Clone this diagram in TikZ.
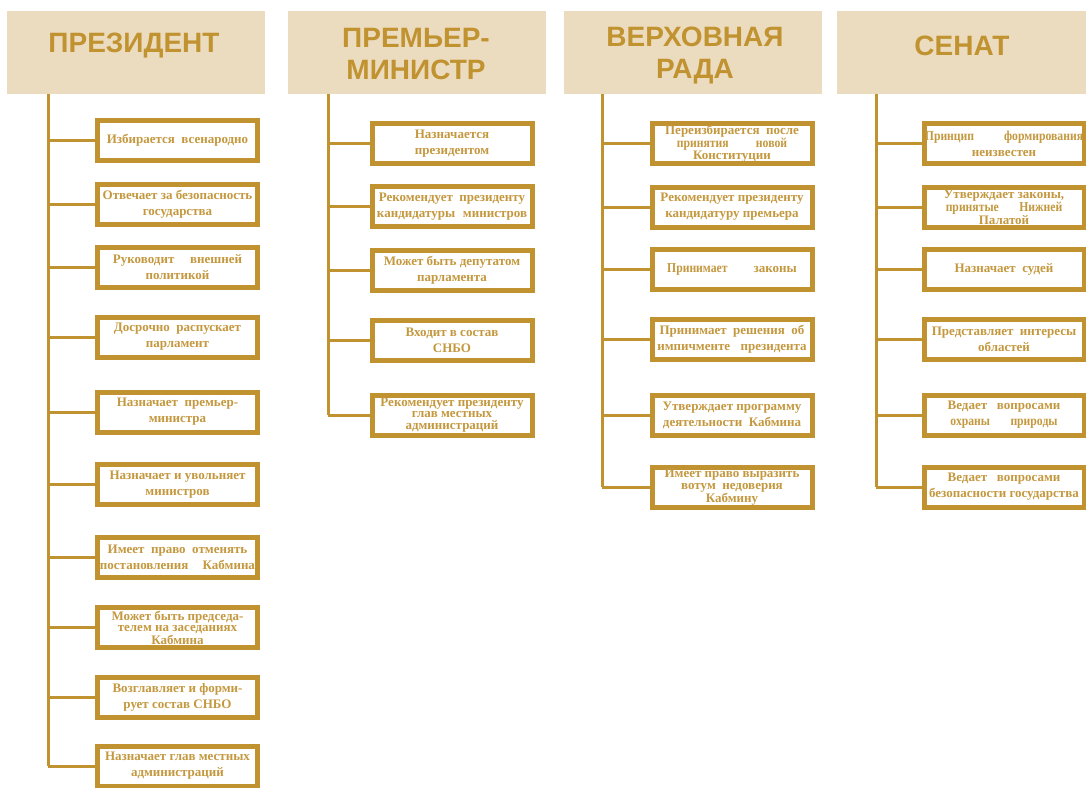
\documentclass[tikz,border=0pt]{standalone}
\usepackage{fontspec}
\setmainfont{Liberation Serif}
\newfontfamily\hdrfont{Liberation Sans}
\newfontfamily\condfont[FakeStretch=0.86]{Liberation Serif}
\definecolor{gold}{RGB}{193,146,48}
\definecolor{goldtext}{RGB}{196,152,62}
\definecolor{beige}{RGB}{236,220,191}
\tikzset{
  hdr/.style={fill=beige, draw=none, minimum width=258pt, minimum height=83pt, inner sep=0pt},
  hdrtext/.style={text=gold, font=\hdrfont\bfseries\fontsize{28}{32}\selectfont, align=center, inner sep=0pt},
  infobox/.style={draw=gold, line width=5pt, fill=white, minimum width=160pt, minimum height=40pt,
    inner sep=0pt, text=goldtext, align=center, font=\bfseries\fontsize{13}{16}\selectfont},
  tight/.style={font=\bfseries\fontsize{13}{11.5}\selectfont},
  trunk/.style={draw=gold, line width=3pt},
}
\newcommand{\cnd}[1]{{\condfont\bfseries\fontsize{13.6}{11.5}\selectfont #1}}
\begin{document}
\begin{tikzpicture}[x=1pt,y=-1pt]
\useasboundingbox (0,0) rectangle (1086,787);
% headers
\node[hdr] (h1) at (136,52.5) {};
\node[hdr] (h2) at (417,52.5) {};
\node[hdr] (h3) at (693,52.5) {};
\node[hdr, minimum width=249pt] (h4) at (961.5,52) {};
\node[hdrtext] (t1) at (134,46) {ПРЕЗИДЕНТ};
\node[hdrtext] (t2) at (416,54.5) {ПРЕМЬЕР-\\МИНИСТР};
\node[hdrtext] (t3) at (695,55.5) {ВЕРХОВНАЯ\\РАДА};
\node[hdrtext] (t4) at (962,46) {СЕНАТ};
% trunk coordinates
\coordinate (c1) at (48,94);
\coordinate (c2) at (328,94);
\coordinate (c3) at (602,94);
\coordinate (c4) at (876,94);
% President boxes
\node[infobox] (p1) at (177.5,140.5) {Избирается\ \ всенародно};
\node[infobox] (p2) at (177.5,204.5) {Отвечает за безопасность\\государства};
\node[infobox] (p3) at (177.5,267.5) {Руководит\hspace{1.2em}внешней\\политикой};
\node[infobox] (p4) at (177.5,337) {Досрочно\ \ распускает\\парламент};
\node[infobox] (p5) at (177.5,412) {Назначает\ \ премьер-\\министра};
\node[infobox] (p6) at (177.5,484.5) {Назначает\ и\ увольняет\\министров};
\node[infobox] (p7) at (177.5,557) {Имеет\ \ право\ \ отменять\\постановления\hspace{1.1em}Кабмина};
\node[infobox, tight] (p8) at (177.5,627.5) {Может быть председа-\\телем на заседаниях\\Кабмина};
\node[infobox] (p9) at (177.5,697.5) {Возглавляет\ и\ форми-\\рует\ состав\ СНБО};
\node[infobox] (p10) at (177.5,766) {Назначает глав местных\\администраций};
% Premier boxes
\node[infobox] (m1) at (452,143.5) {Назначается\\президентом};
\node[infobox] (m2) at (452,206.5) {Рекомендует\ \ президенту\\кандидатуры\hspace{0.6em}министров};
\node[infobox] (m3) at (452,270) {Может\ быть\ депутатом\\парламента};
\node[infobox] (m4) at (452,340) {Входит\ в\ состав\\СНБО};
\node[infobox, tight] (m5) at (452,415) {Рекомендует президенту\\глав местных\\администраций};
% Rada boxes
\node[infobox, tight] (r1) at (732,143.5) {Переизбирается\ \ после\\\cnd{принятия\hspace{2em}новой}\\Конституции};
\node[infobox] (r2) at (732,207) {Рекомендует\ президенту\\кандидатуру\ премьера};
\node[infobox] (r3) at (732,269.5) {\cnd{Принимает}\hspace{2em}законы};
\node[infobox] (r4) at (732,339.5) {Принимает\ \ решения\ \ об\\импичменте\hspace{0.8em}президента};
\node[infobox] (r5) at (732,415) {Утверждает\ программу\\деятельности\ \ Кабмина};
\node[infobox, tight] (r6) at (732,487) {Имеет право выразить\\вотум\ \ недоверия\\Кабмину};
% Senate boxes
\node[infobox] (s1) at (1004,143.5) {\cnd{Принцип\hspace{2.2em}формирования}\\неизвестен};
\node[infobox, tight] (s2) at (1004,207.5) {Утверждает законы,\\\cnd{принятые\hspace{1.5em}Нижней}\\Палатой};
\node[infobox] (s3) at (1004,269.5) {Назначает\ \ судей};
\node[infobox] (s4) at (1004,339.5) {Представляет\ \ интересы\\областей};
\node[infobox] (s5) at (1004,415) {Ведает\ \ \ вопросами\\\cnd{охраны\hspace{1.5em}природы}};
\node[infobox] (s6) at (1004,487) {Ведает\ \ \ вопросами\\безопасности государства};
% trunks
\draw[trunk] (c1) -- (c1 |- p10.west);
\draw[trunk] (c2) -- (c2 |- m5.west);
\draw[trunk] (c3) -- (c3 |- r6.west);
\draw[trunk] (c4) -- (c4 |- s6.west);
% branches
\foreach \b in {p1,p2,p3,p4,p5,p6,p7,p8,p9,p10} \draw[trunk] (c1 |- \b.west) -- (\b.west);
\foreach \b in {m1,m2,m3,m4,m5} \draw[trunk] (c2 |- \b.west) -- (\b.west);
\foreach \b in {r1,r2,r3,r4,r5,r6} \draw[trunk] (c3 |- \b.west) -- (\b.west);
\foreach \b in {s1,s2,s3,s4,s5,s6} \draw[trunk] (c4 |- \b.west) -- (\b.west);
\end{tikzpicture}
\end{document}
